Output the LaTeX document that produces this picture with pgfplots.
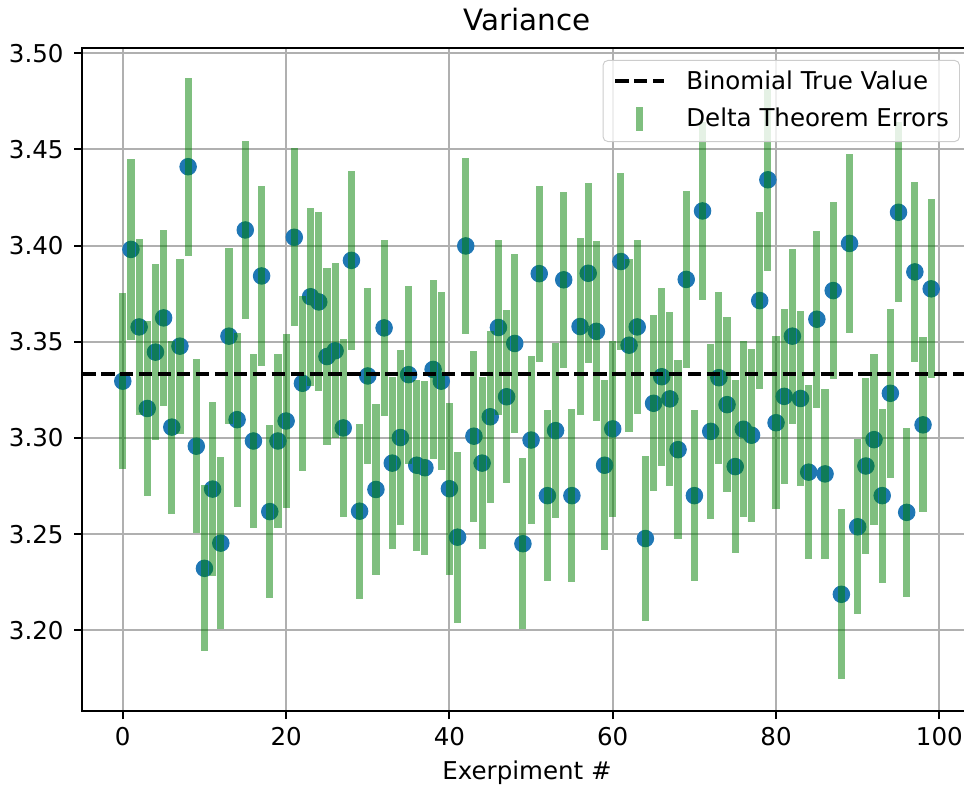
\documentclass[border=0pt]{standalone}
\usepackage{fontspec}
\setmainfont{DejaVu Sans}
\usepackage{pgfplots}
\usepackage{pgfplotstable}
\pgfplotsset{compat=1.18}
\definecolor{mplblue}{HTML}{1F77B4}
\definecolor{mplgreen}{HTML}{008000}
\definecolor{mplgrid}{HTML}{B0B0B0}
\definecolor{mpllegend}{HTML}{CCCCCC}

\pgfplotstableread{
x y e
0 3.3295 0.0458
1 3.3980 0.0470
2 3.3577 0.0456
3 3.3153 0.0456
4 3.3446 0.0457
5 3.3624 0.0458
6 3.3056 0.0449
7 3.3477 0.0455
8 3.4410 0.0463
9 3.2957 0.0453
10 3.2322 0.0432
11 3.2734 0.0453
12 3.2453 0.0446
13 3.3529 0.0457
14 3.3095 0.0452
15 3.4081 0.0465
16 3.2984 0.0453
17 3.3842 0.0467
18 3.2617 0.0450
19 3.2984 0.0452
20 3.3088 0.0450
21 3.4043 0.0463
22 3.3284 0.0456
23 3.3734 0.0462
24 3.3707 0.0465
25 3.3423 0.0461
26 3.3453 0.0454
27 3.3052 0.0461
28 3.3923 0.0465
29 3.2619 0.0455
30 3.3322 0.0458
31 3.2732 0.0443
32 3.3572 0.0459
33 3.2869 0.0447
34 3.3002 0.0453
35 3.3329 0.0463
36 3.2858 0.0444
37 3.2845 0.0453
38 3.3356 0.0466
39 3.3295 0.0461
40 3.2736 0.0447
41 3.2484 0.0445
42 3.3998 0.0456
43 3.3009 0.0445
44 3.2869 0.0446
45 3.3110 0.0446
46 3.3574 0.0456
47 3.3214 0.0450
48 3.3491 0.0465
49 3.2450 0.0444
50 3.2989 0.0439
51 3.3854 0.0458
52 3.2700 0.0443
53 3.3038 0.0454
54 3.3822 0.0459
55 3.2700 0.0448
56 3.3579 0.0459
57 3.3856 0.0468
58 3.3554 0.0468
59 3.2858 0.0441
60 3.3047 0.0458
61 3.3917 0.0461
62 3.3482 0.0450
63 3.3577 0.0454
64 3.2477 0.0428
65 3.3180 0.0458
66 3.3318 0.0462
67 3.3203 0.0452
68 3.2939 0.0466
69 3.3824 0.0459
70 3.2700 0.0445
71 3.4180 0.0463
72 3.3034 0.0454
73 3.3313 0.0448
74 3.3173 0.0454
75 3.2851 0.0448
76 3.3045 0.0457
77 3.3014 0.0450
78 3.3714 0.0459
79 3.4342 0.0474
80 3.3079 0.0449
81 3.3216 0.0456
82 3.3529 0.0455
83 3.3205 0.0456
84 3.2822 0.0453
85 3.3617 0.0459
86 3.2813 0.0440
87 3.3766 0.0458
88 3.2187 0.0441
89 3.4011 0.0464
90 3.2538 0.0455
91 3.2854 0.0457
92 3.2991 0.0445
93 3.2700 0.0452
94 3.3232 0.0440
95 3.4173 0.0467
96 3.2613 0.0441
97 3.3863 0.0470
98 3.3068 0.0455
99 3.3775 0.0466
}\data

\begin{document}
\begin{tikzpicture}[font=\fontsize{10.3}{12.4}\selectfont]
\path[use as bounding box] (-34.6pt,-32.0pt) rectangle (370.3pt,298.5pt);
\begin{axis}[
  at={(0,0)}, anchor=south west,
  scale only axis,
  width=373.5pt, height=278.5pt,
  xmin=-4.95, xmax=103.95,
  ymin=3.1582, ymax=3.5029,
  clip marker paths=true,
  xtick={0,20,40,60,80,100},
  ytick={3.20,3.25,3.30,3.35,3.40,3.45,3.50},
  /pgf/number format/assume math mode=true,
  yticklabel style={/pgf/number format/fixed, /pgf/number format/fixed zerofill, /pgf/number format/precision=2},
  xtick pos=bottom, ytick pos=left,
  tick align=outside,
  major tick length=3.5pt,
  every tick/.style={black, line width=0.8pt},
  axis line style={black, line width=0.8pt},
  grid=major,
  major grid style={draw=mplgrid, line width=0.8pt},
  xticklabel style={anchor=base, inner sep=0pt, yshift=-11.2pt},
  yticklabel style={anchor=east, inner sep=0pt, xshift=-4.2pt},
  title={Variance},
  title style={at={(axis description cs:0.5,1)}, anchor=base, yshift=1.1pt, inner sep=0pt, font=\fontsize{12.36}{14.8}\selectfont},
  xlabel={Exerpiment \#},
  xlabel style={at={(axis description cs:0.5,0)}, anchor=base, yshift=-29.1pt, inner sep=0pt},
  legend cell align=left,
  legend style={at={(axis description cs:1,1)}, anchor=north east, xshift=-4.9pt, yshift=-5.2pt,
    draw=mpllegend, rounded corners=2pt, fill=white, fill opacity=0.8, text opacity=1,
    inner xsep=4.4pt, inner ysep=4.3pt, row sep=6.0pt, nodes={inner sep=0pt, anchor=base west}},
]
\addlegendimage{legend image code/.code={\path[draw=none, fill=none] (0pt,-1.9pt) rectangle (29.8pt,7.6pt);
  \draw[black, line width=1.5pt, dash pattern=on 5.55pt off 2.4pt, sharp corners] (0pt,3.5pt) -- (20.6pt,3.5pt);}}
\addlegendentry{\rule[-1.9pt]{0pt}{9.5pt}Binomial True Value}
\addlegendimage{legend image code/.code={\path[draw=none, fill=none] (0pt,-1.9pt) rectangle (29.8pt,7.6pt);
  \draw[overlay, mplgreen, draw opacity=0.5, line width=3pt, sharp corners] (10.3pt,-1.6pt) -- (10.3pt,8.4pt);}}
\addlegendentry{\rule[-1.9pt]{0pt}{9.5pt}Delta Theorem Errors}

\addplot[only marks, mark=*, mark size=3.47pt, color=mplblue, forget plot]
  table[x=x, y=y] {\data};
\addplot[draw=none, mark=none, forget plot,
  error bars/.cd, y dir=both, y explicit, error mark=none,
  error bar style={line width=3pt, draw=mplgreen, draw opacity=0.5}]
  table[x=x, y=y, y error=e] {\data};
\addplot[black, line width=1.5pt, dash pattern=on 5.55pt off 2.4pt, forget plot]
  coordinates {(-4.95,3.33333) (103.95,3.33333)};
\end{axis}
\end{tikzpicture}
\end{document}
